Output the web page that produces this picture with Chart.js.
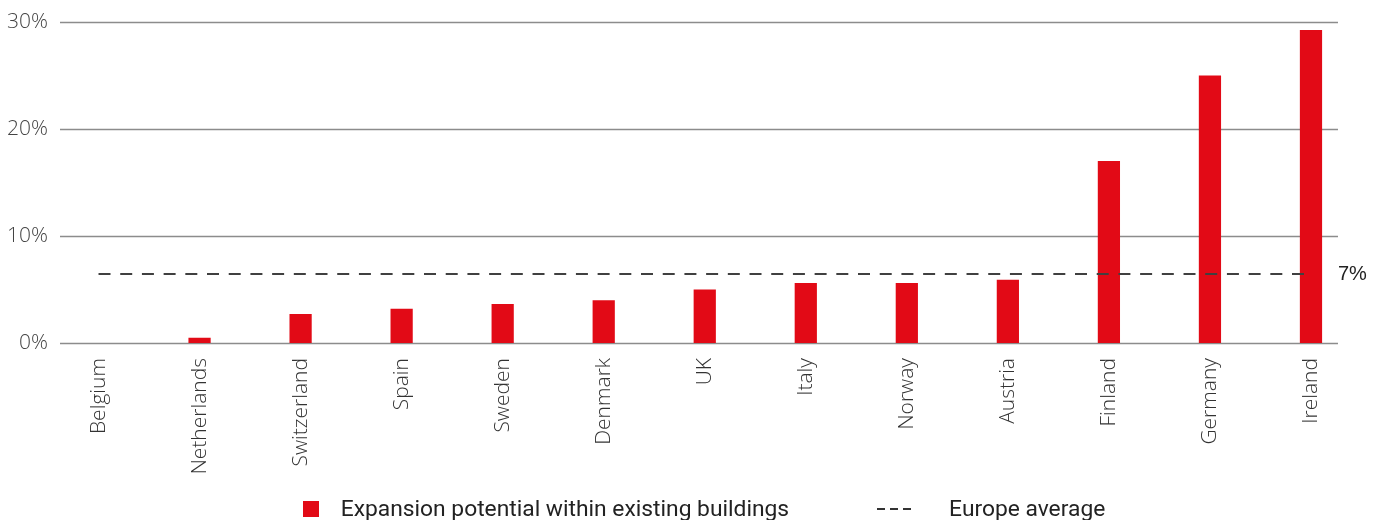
<!DOCTYPE html>
<html>
<head>
<meta charset="utf-8">
<script src="https://cdn.jsdelivr.net/npm/chart.js@4/dist/chart.umd.min.js"></script>
<style>
  body { margin: 0; background: #fff; }
  #wrap { position: relative; width: 1384px; height: 520px; }
  #leyenda {
    position: absolute; left: 24px; right: 0; top: 495px;
    display: flex; justify-content: center; align-items: center;
    font-family: Roboto, "Noto Sans", sans-serif; font-size: 22.8px; color: #222;
  }
  .cuadro { display: inline-block; width: 16px; height: 16px; background: #e20a16; margin-right: 22px; }
  .guion {
    display: inline-block; width: 34px; height: 2px; margin: 0 38px 0 88px;
    background: repeating-linear-gradient(to right, #333 0 8px, transparent 8px 13px);
  }
</style>
</head>
<body>
<div id="wrap">
  <canvas id="grafico"></canvas>
  <div id="leyenda">
    <span class="cuadro"></span><span>Expansion potential within existing buildings</span>
    <span class="guion"></span><span>Europe average</span>
  </div>
</div>
<script>
// Datos del gráfico
const paises = ["Belgium", "Netherlands", "Switzerland", "Spain", "Sweden", "Denmark", "UK", "Italy", "Norway", "Austria", "Finland", "Germany", "Ireland"];
const expansion = [0, 0.5, 2.7, 3.2, 3.65, 4.0, 5.0, 5.6, 5.6, 5.9, 17.0, 25.0, 29.25];
const mediaEuropa = [6.45, 6.45, 6.45, 6.45, 6.45, 6.45, 6.45, 6.45, 6.45, 6.45, 6.45, 6.45, 6.45];
const etiquetaMedia = "7%";
const yMax = 30;
const yPaso = 10;

// Líneas de cuadrícula horizontales (más cortas que el área) y etiqueta del promedio
const extras = {
  id: "extras",
  beforeDatasetsDraw(chart) {
    const { ctx, chartArea, scales } = chart;
    const izquierda = chartArea.left + 12;
    const derecha = scales.x.getPixelForValue(paises.length - 1) + 27;
    ctx.save();
    ctx.strokeStyle = "#8c8c8c";
    ctx.lineWidth = 1.3;
    scales.y.ticks.forEach(t => {
      const py = Math.round(scales.y.getPixelForValue(t.value)) + 0.5;
      ctx.beginPath();
      ctx.moveTo(izquierda, py);
      ctx.lineTo(derecha, py);
      ctx.stroke();
    });
    ctx.restore();
  },
  afterDatasetsDraw(chart) {
    const { ctx, scales } = chart;
    const x = scales.x.getPixelForValue(paises.length - 1) + 27;
    const y = scales.y.getPixelForValue(mediaEuropa[mediaEuropa.length - 1]);
    ctx.save();
    ctx.font = "20px 'Liberation Sans', Arial, sans-serif";
    ctx.fillStyle = "#222";
    ctx.textAlign = "left";
    ctx.textBaseline = "middle";
    ctx.fillText(etiquetaMedia, x, y);
    ctx.restore();
  }
};

document.addEventListener("DOMContentLoaded", function () {
  const ctx = document.getElementById("grafico").getContext("2d");
  new Chart(ctx, {
    type: "bar",
    data: {
      labels: paises,
      datasets: [
        {
          type: "line",
          label: "Europe average",
          data: mediaEuropa,
          borderColor: "#404040",
          borderWidth: 2,
          borderDash: [12, 9.7],
          pointRadius: 0,
          fill: false,
          order: 0
        },
        {
          label: "Expansion potential within existing buildings",
          data: expansion,
          backgroundColor: "#e20a16",
          barPercentage: 0.22,
          categoryPercentage: 1,
          order: 1
        }
      ]
    },
    options: {
      responsive: true,
      maintainAspectRatio: false,
      animation: false,
      layout: { padding: { top: 22, right: 22.5, bottom: 40, left: 0 } },
      plugins: { legend: { display: false }, tooltip: { enabled: false } },
      scales: {
        x: {
          grid: { display: false, drawTicks: false },
          border: { display: false },
          ticks: {
            minRotation: 90, maxRotation: 90, padding: 15,
            color: "#333",
            font: { family: "'Open Sans', sans-serif", size: 21, weight: 300 }
          },
          afterFit: s => { s.height = 137; }
        },
        y: {
          min: 0, max: yMax,
          grid: { display: false, drawTicks: false },
          border: { display: false },
          ticks: {
            stepSize: yPaso, padding: 0,
            color: "#444",
            font: { family: "'Open Sans', sans-serif", size: 21, weight: 300 },
            callback: v => v + "%"
          },
          afterFit: s => { s.width = 48; }
        }
      }
    },
    plugins: [extras]
  });
});
</script>
</body>
</html>
